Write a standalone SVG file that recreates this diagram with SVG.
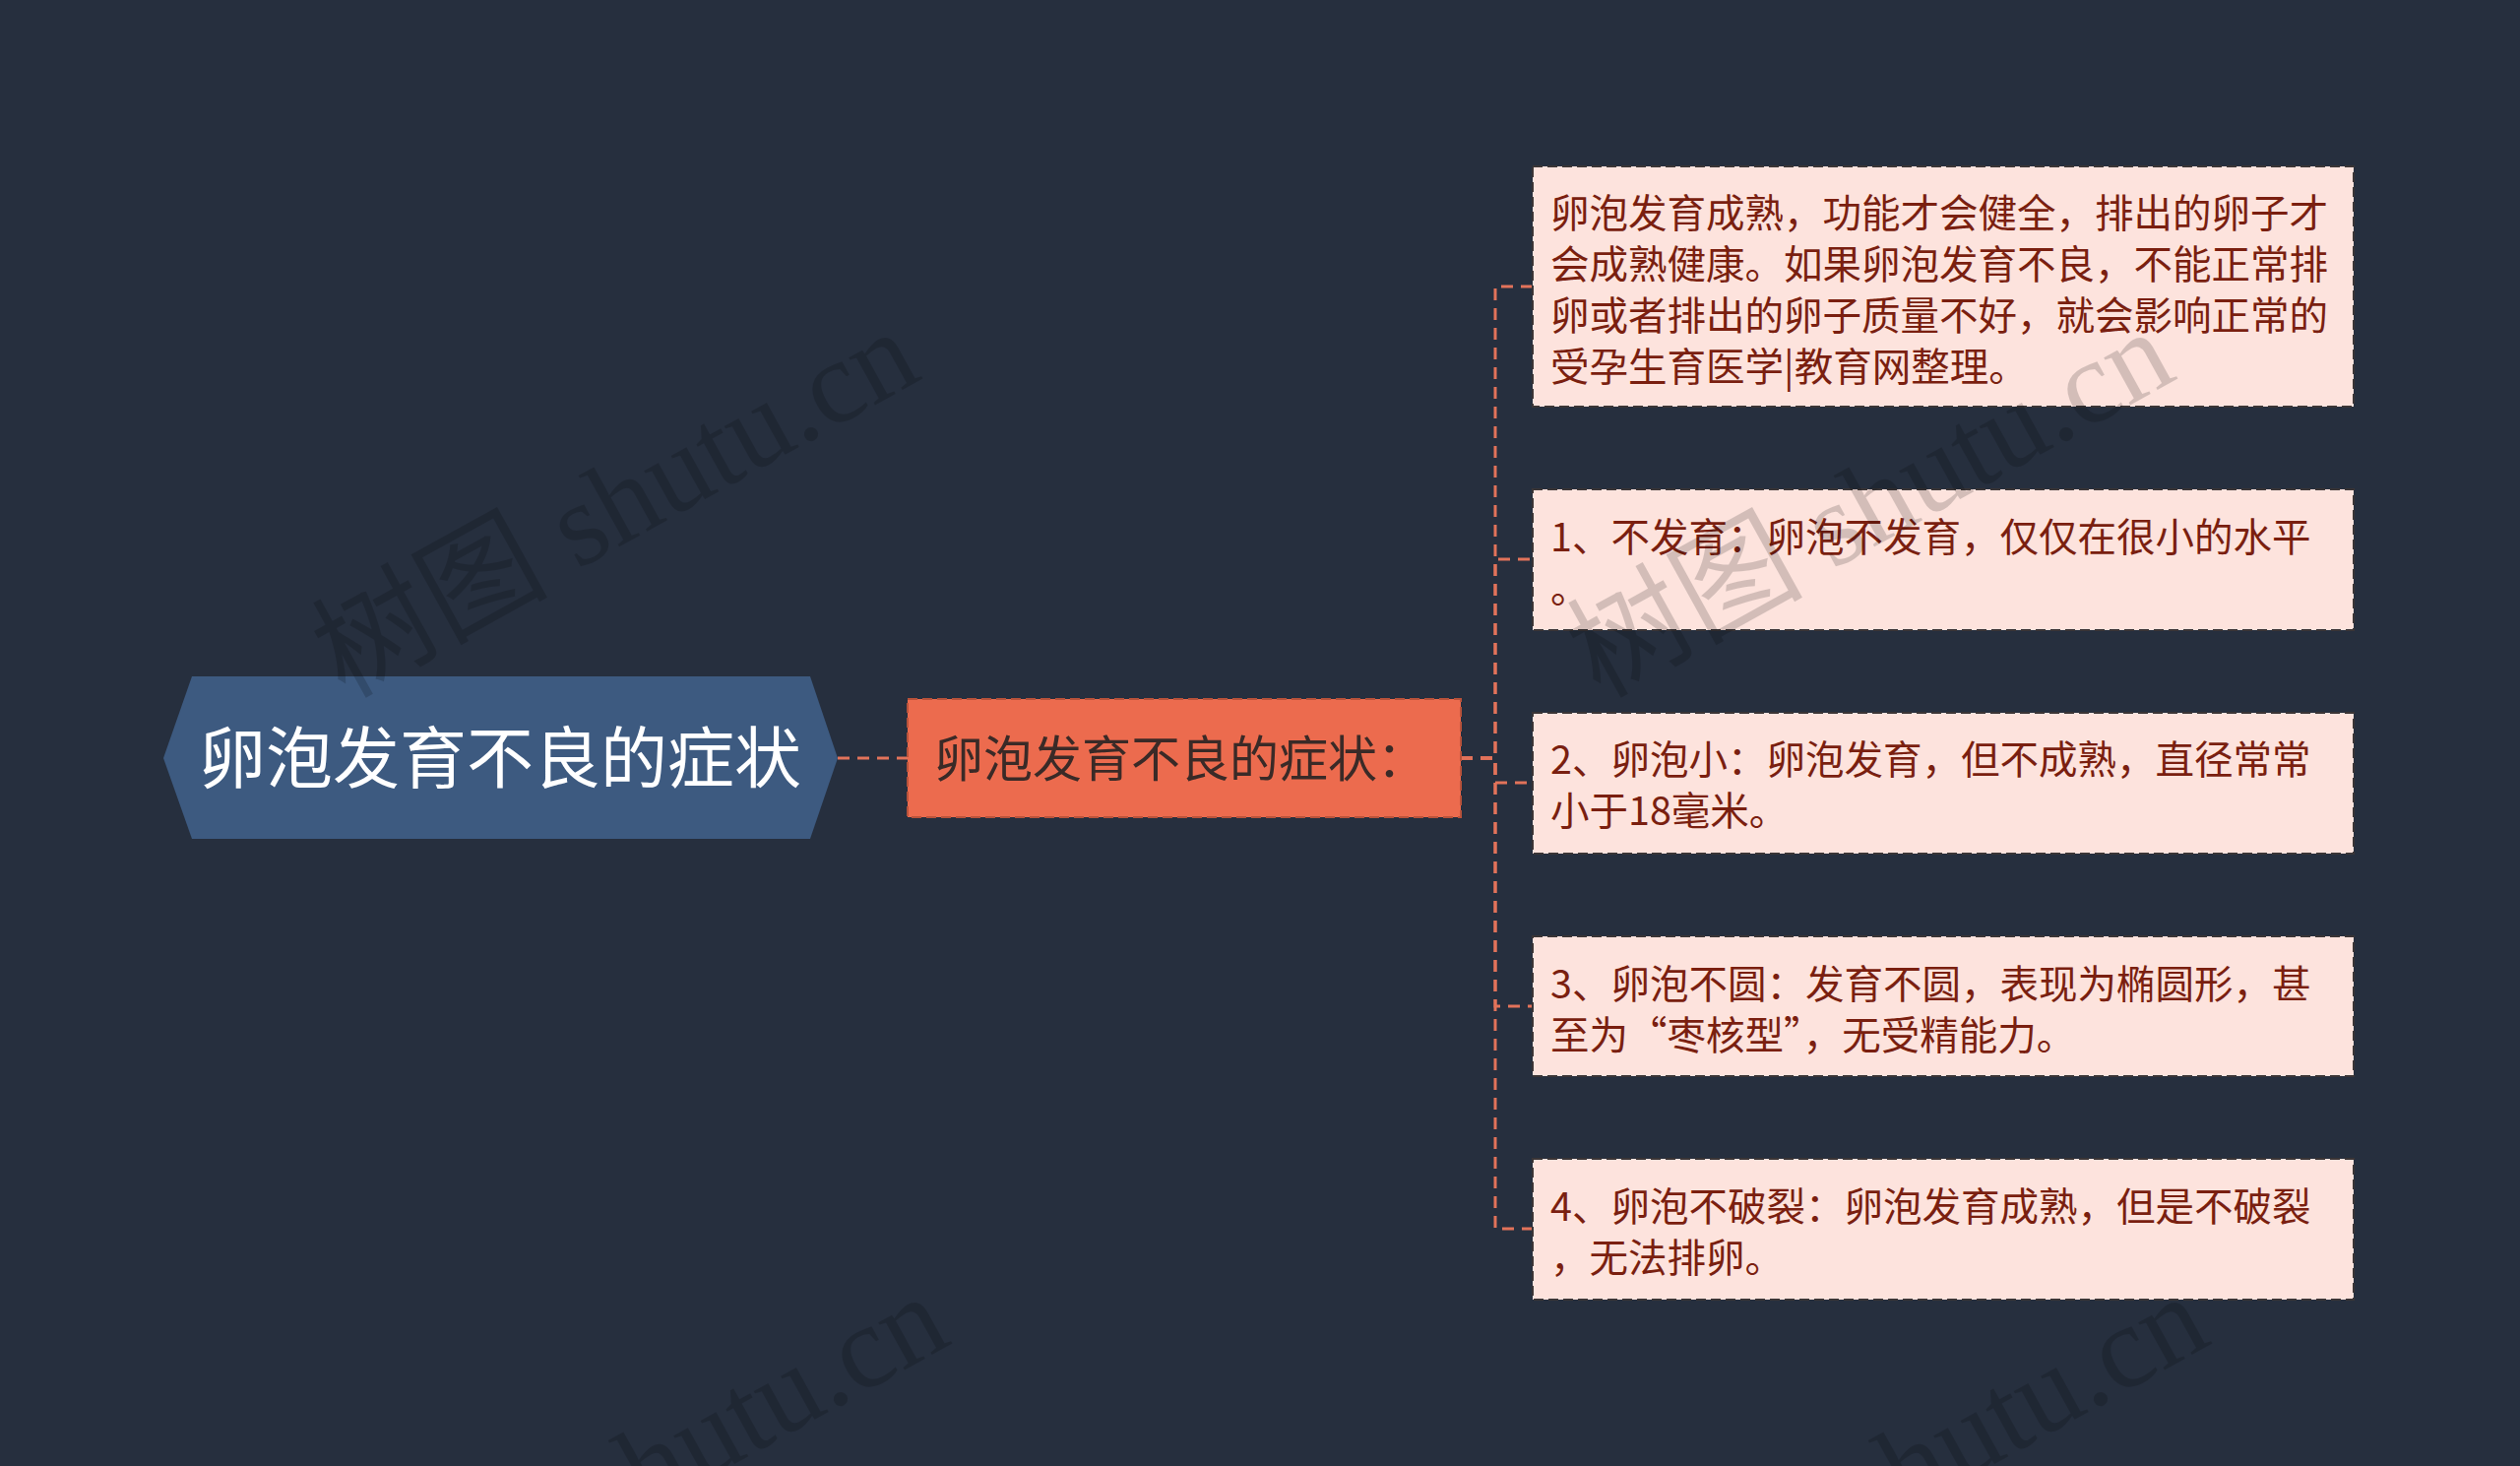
<svg xmlns="http://www.w3.org/2000/svg" width="2560" height="1489" viewBox="0 0 2560 1489">
<style>
.bg{fill:#262f3e}
.conn{fill:none;stroke:#e2735a;stroke-width:3;stroke-dasharray:12 8}
.root-shape{fill:#3d5a80}
.root-text{font-family:"Noto Sans CJK SC","Noto Sans",sans-serif;font-size:68px;fill:#ffffff;text-anchor:middle}
.mid-shape{fill:#ec6b4e;stroke:#b9523a;stroke-width:2;stroke-dasharray:10 5}
.mid-text{font-family:"Noto Sans CJK SC","Noto Sans",sans-serif;font-size:50px;fill:#3a2a27}
.leaf-shape{fill:#fde3dd;stroke:#3a3536;stroke-width:2;stroke-dasharray:10 5}
.leaf-text{font-family:"Noto Sans CJK SC","Noto Sans",sans-serif;font-size:39.5px;fill:#7a1f10}
.wm{font-family:"Liberation Serif","Noto Sans CJK SC",serif;font-size:120px;fill:#000000;opacity:0.16}
</style>
<rect class="bg" x="0" y="0" width="2560" height="1489"/>

<g id="connectors">
  <path class="conn" d="M851 770 H922"/>
  <path class="conn" d="M1484 770 H1519 V291 H1556"/>
  <path class="conn" d="M1484 770 H1519 V568 H1556"/>
  <path class="conn" d="M1484 770 H1519 V795 H1556"/>
  <path class="conn" d="M1484 770 H1519 V1022 H1556"/>
  <path class="conn" d="M1484 770 H1519 V1248 H1556"/>
</g>

<g id="root">
  <polygon class="root-shape" points="166,770 195,687 823,687 851,770 823,852 195,852"/>
  <text class="root-text" x="508" y="795">卵泡发育不良的症状</text>
</g>

<g id="middle">
  <rect class="mid-shape" x="922" y="710" width="562" height="120"/>
  <text class="mid-text" x="949" y="789">卵泡发育不良的症状：</text>
</g>

<g id="leaf1">
  <rect class="leaf-shape" x="1557" y="169" width="834" height="244"/>
  <text class="leaf-text">
    <tspan x="1575" y="231">卵泡发育成熟，功能才会健全，排出的卵子才</tspan>
    <tspan x="1575" y="283">会成熟健康。如果卵泡发育不良，不能正常排</tspan>
    <tspan x="1575" y="335">卵或者排出的卵子质量不好，就会影响正常的</tspan>
    <tspan x="1575" y="387">受孕生育医学|教育网整理。</tspan>
  </text>
</g>

<g id="leaf2">
  <rect class="leaf-shape" x="1557" y="497" width="834" height="143"/>
  <text class="leaf-text">
    <tspan x="1575" y="560">1、不发育：卵泡不发育，仅仅在很小的水平</tspan>
    <tspan x="1575" y="612">。</tspan>
  </text>
</g>

<g id="leaf3">
  <rect class="leaf-shape" x="1557" y="724" width="834" height="143"/>
  <text class="leaf-text">
    <tspan x="1575" y="786">2、卵泡小：卵泡发育，但不成熟，直径常常</tspan>
    <tspan x="1575" y="838">小于18毫米。</tspan>
  </text>
</g>

<g id="leaf4">
  <rect class="leaf-shape" x="1557" y="951" width="834" height="142"/>
  <text class="leaf-text">
    <tspan x="1575" y="1014">3、卵泡不圆：发育不圆，表现为椭圆形，甚</tspan>
    <tspan x="1575" y="1066">至为“枣核型”，无受精能力。</tspan>
  </text>
</g>

<g id="leaf5">
  <rect class="leaf-shape" x="1557" y="1177" width="834" height="143"/>
  <text class="leaf-text">
    <tspan x="1575" y="1240">4、卵泡不破裂：卵泡发育成熟，但是不破裂</tspan>
    <tspan x="1575" y="1292">，无法排卵。</tspan>
  </text>
</g>

<g id="watermark">
  <text class="wm" x="350" y="710" transform="rotate(-29 350 710)">树图 shutu.cn</text>
  <text class="wm" x="1625" y="710" transform="rotate(-29 1625 710)">树图 shutu.cn</text>
  <text class="wm" x="380" y="1690" transform="rotate(-29 380 1690)">树图 shutu.cn</text>
  <text class="wm" x="1660" y="1690" transform="rotate(-29 1660 1690)">树图 shutu.cn</text>
</g>
</svg>
